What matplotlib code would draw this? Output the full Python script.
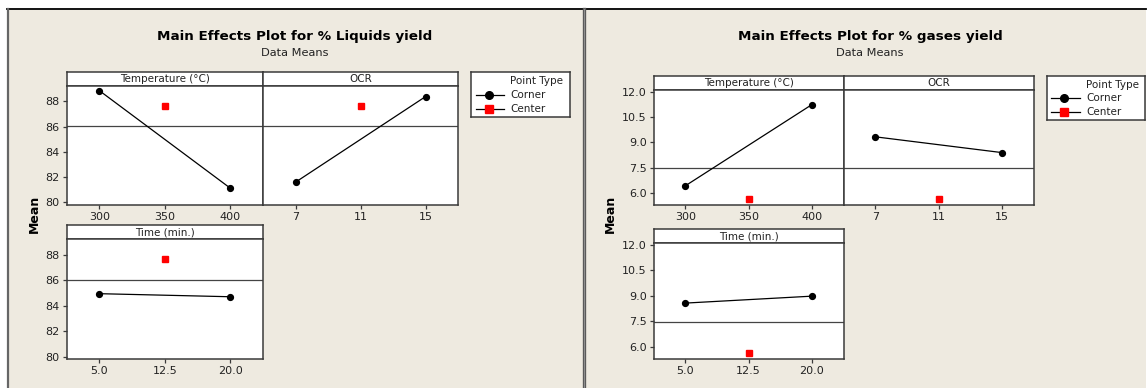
import matplotlib
matplotlib.use("Agg")
import matplotlib.pyplot as plt
from matplotlib.patches import Rectangle
from matplotlib.lines import Line2D

plt.rcParams["font.family"] = ["DejaVu Sans"]

# ---- data -------------------------------------------------------------
factors = ["Temperature (°C)", "OCR", "Time (min.)"]
corner_levels = [[300, 400], [7, 15], [5.0, 20.0]]
center_levels = [350, 11, 12.5]
tick_values = [[300, 350, 400], [7, 11, 15], [5.0, 12.5, 20.0]]
tick_labels = [["300", "350", "400"], ["7", "11", "15"], ["5.0", "12.5", "20.0"]]
x_limits = [(275, 425), (5, 17), (1.25, 23.75)]

liquids_corner = [[88.83, 81.13], [81.60, 88.36], [84.94, 84.70]]
liquids_center = 87.65
liquids_mean = 86.05
liquids_yticks = [80, 82, 84, 86, 88]
liquids_ylabels = ["80", "82", "84", "86", "88"]

gases_corner = [[6.41, 11.25], [9.33, 8.39], [8.57, 8.98]]
gases_center = 5.60
gases_mean = 7.46
gases_yticks = [6.0, 7.5, 9.0, 10.5, 12.0]
gases_ylabels = ["6.0", "7.5", "9.0", "10.5", "12.0"]

# ---- layout helpers ----------------------------------------------------
W, H = 1148, 388
BG = "#EEEAE0"
SPINE = "#3a3a3a"

fig = plt.figure(figsize=(W / 100, H / 100), dpi=100, facecolor="white")


def fbox(x0, y0, x1, y1):
    return [x0 / W, 1 - y1 / H, (x1 - x0) / W, (y1 - y0) / H]


def fx(x):
    return x / W


def fy(y):
    return 1 - y / H


# panel backgrounds and frame lines
for x0, x1 in [(7, 583), (584, 1146)]:
    fig.patches.append(Rectangle((fx(x0), 0), fx(x1) - fx(x0), fy(9.5),
                                 transform=fig.transFigure, facecolor=BG,
                                 edgecolor="none", zorder=-10))
fig.add_artist(Line2D([fx(7), fx(1146)], [fy(9.3), fy(9.3)], color="black", lw=1.3, zorder=-5))
fig.add_artist(Line2D([fx(7.5), fx(7.5)], [0, fy(9.3)], color="#666666", lw=1.6, zorder=-5))
fig.add_artist(Line2D([fx(583.5), fx(583.5)], [0, fy(9.3)], color="#5a5a5a", lw=2.4, zorder=-5))
fig.add_artist(Line2D([fx(583.5), fx(583.5)], [0, fy(9.3)], color="#9a9a9a", lw=0.6, zorder=-5))


def strip(box, label):
    ax = fig.add_axes(fbox(*box))
    ax.set_facecolor("white")
    ax.set_xticks([])
    ax.set_yticks([])
    for s in ax.spines.values():
        s.set_color(SPINE)
        s.set_linewidth(1.1)
    ax.text(0.5, 0.5, label, ha="center", va="center", fontsize=7.5,
            color="#222222", transform=ax.transAxes)


def effect_axes(box, i, corner, center, mean, ylim, yticks, ylabels, show_y):
    ax = fig.add_axes(fbox(*box))
    ax.set_facecolor("white")
    ax.plot(corner_levels[i], corner[i], color="black", lw=0.9,
            marker="o", ms=4.2, mfc="black", mec="black", zorder=3)
    ax.plot([center_levels[i]], [center], ls="none", marker="s", ms=4.6,
            mfc="#ff0000", mec="#ff0000", zorder=3)
    ax.axhline(mean, color="#444444", lw=0.9, zorder=2)
    ax.set_xlim(*x_limits[i])
    ax.set_ylim(*ylim)
    ax.set_xticks(tick_values[i])
    ax.set_xticklabels(tick_labels[i])
    if show_y:
        ax.set_yticks(yticks)
        ax.set_yticklabels(ylabels)
    else:
        ax.set_yticks([])
    ax.tick_params(direction="out", length=3, width=0.9, color=SPINE,
                   labelsize=8, labelcolor="#222222", pad=2)
    for s in ax.spines.values():
        s.set_color(SPINE)
        s.set_linewidth(1.1)
    return ax


def legend_box(box):
    ax = fig.add_axes(fbox(*box))
    ax.set_facecolor("white")
    ax.set_xticks([])
    ax.set_yticks([])
    ax.set_xlim(0, 1)
    ax.set_ylim(0, 1)
    for s in ax.spines.values():
        s.set_color(SPINE)
        s.set_linewidth(1.1)
    ax.text(0.4, 0.80, "Point Type", fontsize=7.5, color="#222222", va="center")
    ax.plot([0.05, 0.34], [0.49, 0.49], color="black", lw=0.9)
    ax.plot([0.18], [0.49], marker="o", ms=5.5, color="black")
    ax.text(0.4, 0.49, "Corner", fontsize=7.5, color="#222222", va="center")
    ax.plot([0.05, 0.34], [0.18, 0.18], color="black", lw=0.9)
    ax.plot([0.18], [0.18], marker="s", ms=5.5, mfc="#ff0000", mec="#ff0000")
    ax.text(0.4, 0.18, "Center", fontsize=7.5, color="#222222", va="center")


def panel(title, cx, xl, xm, xr, top_strip, top_ax_bottom, bot_strip, bot_axes_top,
          bot_ax_bottom, leg, mean_x, corner, center, mean, ylim, yticks, ylabels):
    fig.text(fx(cx), fy(36.7), title, ha="center", va="center",
             fontsize=9.7, weight="bold", color="black")
    fig.text(fx(cx), fy(53.5), "Data Means", ha="center", va="center",
             fontsize=8.2, color="#222222")
    top_axes_top = top_strip + 14.3
    # top row: temperature and OCR
    strip((xl, top_strip, xm, top_axes_top), factors[0])
    strip((xm, top_strip, xr, top_axes_top), factors[1])
    effect_axes((xl, top_axes_top, xm, top_ax_bottom), 0, corner, center, mean,
                ylim, yticks, ylabels, True)
    effect_axes((xm, top_axes_top, xr, top_ax_bottom), 1, corner, center, mean,
                ylim, yticks, ylabels, False)
    # bottom row: time
    strip((xl, bot_strip, xm, bot_axes_top), factors[2])
    effect_axes((xl, bot_axes_top, xm, bot_ax_bottom), 2, corner, center, mean,
                ylim, yticks, ylabels, True)
    legend_box(leg)
    fig.text(fx(mean_x), fy(214), "Mean", rotation=90, ha="center", va="center",
             fontsize=9, weight="bold", color="black")


panel("Main Effects Plot for % Liquids yield", 295, 66.7, 263, 458,
      71.7, 205, 225, 239.3, 359.3, (470.7, 71.7, 570, 117.3), 34,
      liquids_corner, liquids_center, liquids_mean, (79.8, 89.2),
      liquids_yticks, liquids_ylabels)

panel("Main Effects Plot for % gases yield", 870, 653.6, 843.6, 1033.7,
      76, 205, 229, 243.3, 359, (1046.5, 76, 1145, 120), 610,
      gases_corner, gases_center, gases_mean, (5.27, 12.1),
      gases_yticks, gases_ylabels)

fig.savefig("out.png", dpi=100, facecolor="white")
